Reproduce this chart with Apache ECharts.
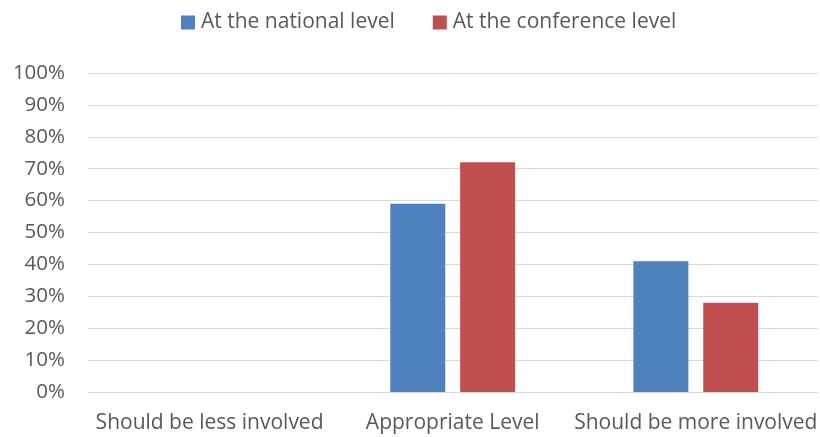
<!DOCTYPE html>
<html>
<head>
<meta charset="utf-8">
<script src="https://cdn.jsdelivr.net/npm/echarts@6/dist/echarts.min.js"></script>
<style>
  html, body { margin: 0; padding: 0; background: #fff; }
  #chart { width: 820px; height: 437px; }
</style>
</head>
<body>
<div id="chart"></div>
<script>
// data
var categories = ['Should be less involved', 'Appropriate Level', 'Should be more involved'];
var seriesNames = ['At the national level', 'At the conference level'];
var nationalValues = [0, 59, 41];
var conferenceValues = [0, 72, 28];
var colors = ['#4F81BD', '#C0504D'];

var textColor = '#595959';
var font = 'Open Sans';

var chart = echarts.init(document.getElementById('chart'));
chart.setOption({
  animation: false,
  color: colors,
  textStyle: { fontFamily: font },
  legend: {
    top: 7,
    left: 176,
    itemWidth: 14,
    itemHeight: 14,
    itemGap: 38,
    icon: 'rect',
    textStyle: { color: textColor, fontSize: 21, fontFamily: font, padding: [0, 0, 0, 1] },
    data: seriesNames
  },
  grid: { left: 88, right: 0, top: 73, bottom: 45, containLabel: false },
  xAxis: {
    type: 'category',
    data: categories,
    axisTick: { show: false },
    axisLine: { lineStyle: { color: '#d9d9d9', width: 1 } },
    axisLabel: { color: textColor, fontSize: 21, fontFamily: font, margin: 21, interval: 0 }
  },
  yAxis: {
    type: 'value',
    min: 0,
    max: 100,
    interval: 10,
    axisLine: { show: false },
    axisTick: { show: false },
    splitLine: { lineStyle: { color: '#d9d9d9', width: 1 } },
    axisLabel: { color: textColor, fontSize: 20.5, fontFamily: font, margin: 23, formatter: '{value}%' }
  },
  series: [
    {
      name: seriesNames[0],
      type: 'bar',
      data: nationalValues,
      barWidth: 55,
      barGap: '27%'
    },
    {
      name: seriesNames[1],
      type: 'bar',
      data: conferenceValues,
      barWidth: 55,
      barGap: '27%'
    }
  ]
});
</script>
</body>
</html>
